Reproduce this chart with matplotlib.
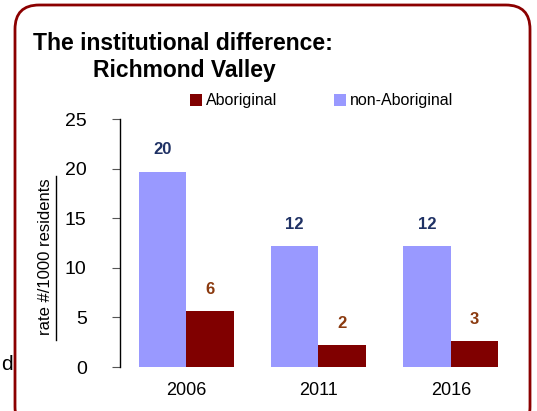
import matplotlib.pyplot as plt
import numpy as np
from matplotlib.patches import FancyBboxPatch
from matplotlib.lines import Line2D

years = ["2006", "2011", "2016"]
non_aboriginal = [19.7, 12.2, 12.2]
aboriginal = [5.6, 2.2, 2.6]
non_abo_labels = ["20", "12", "12"]
abo_labels = ["6", "2", "3"]

plt.rcParams['font.family'] = ['Liberation Sans', 'DejaVu Sans']

fig = plt.figure(figsize=(5.37, 4.11), dpi=100)
ax = fig.add_axes([120 / 537, 44 / 411, 397 / 537, 248 / 411])

x = np.arange(len(years))
w = 0.36
ax.bar(x - w / 2, non_aboriginal, width=w, color='#9999FF', label='non-Aboriginal')
ax.bar(x + w / 2, aboriginal, width=w, color='#800000', label='Aboriginal')

for i in range(len(years)):
    ax.text(x[i] - w / 2, non_aboriginal[i] + 2.2, non_abo_labels[i],
            ha='center', va='center', fontsize=12, fontweight='bold', color='#1F3164')
    ax.text(x[i] + w / 2, aboriginal[i] + 2.2, abo_labels[i],
            ha='center', va='center', fontsize=12, fontweight='bold', color='#8B3A0F')

ax.set_xlim(-0.5, 2.5)
ax.set_ylim(0, 25)
ax.set_yticks([0, 5, 10, 15, 20, 25])
ax.set_xticks(x)
ax.set_xticklabels(years)
ax.tick_params(axis='y', labelsize=14, length=6, pad=18, color='#555555')
ax.tick_params(axis='x', labelsize=13, length=0, pad=11)
for s in ['top', 'right', 'bottom']:
    ax.spines[s].set_visible(False)
ax.spines['left'].set_linewidth(1)

# legend (manual placement to match the reference)
handles, labels = ax.get_legend_handles_labels()
fig.legend([handles[1], handles[0]], ['Aboriginal', 'non-Aboriginal'],
           loc='center left', bbox_to_anchor=(176 / 537, 1 - 101 / 411),
           ncol=2, frameon=False, handlelength=0.75, handleheight=0.8,
           handletextpad=0.2, columnspacing=3.6,
           prop={'size': 11.5})

# title
fig.text(33 / 537, 1 - 44 / 411, "The institutional difference:",
         fontsize=16.5, fontweight='bold', ha='left', va='center')
fig.text(93 / 537, 1 - 70 / 411, "Richmond Valley",
         fontsize=16.5, fontweight='bold', ha='left', va='center')

# y label with underline
fig.text(46 / 537, 1 - 257 / 411, "rate #/1000 residents", rotation=90,
         ha='center', va='center', fontsize=12)
fig.add_artist(Line2D([56 / 537, 56 / 537], [1 - 340 / 411, 1 - 176 / 411],
                      color='black', linewidth=1, transform=fig.transFigure))

# stray text fragment at left edge
fig.text(1 / 537, 1 - 364 / 411, "d", fontsize=15, ha='left', va='center')

# rounded border
border = FancyBboxPatch((15 / 537, -20 / 411), 515 / 537, 426 / 411,
                        boxstyle="round,pad=0,rounding_size=0.045",
                        transform=fig.transFigure, facecolor='none',
                        edgecolor='#8B0000', linewidth=2, mutation_aspect=537 / 411)
fig.add_artist(border)

fig.savefig("out.png", dpi=100)
